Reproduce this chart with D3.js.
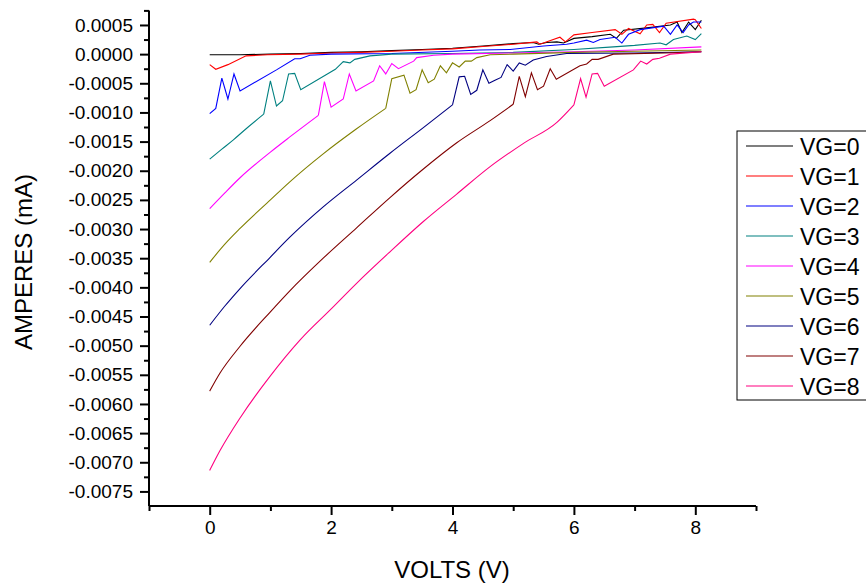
<!DOCTYPE html>
<html>
<head>
<meta charset="utf-8">
<script src="https://cdn.jsdelivr.net/npm/d3@7"></script>
<style>
  body { margin: 0; background: #fff; }
  text { font-family: "Liberation Sans", Arial, sans-serif; fill: #000; }
</style>
</head>
<body>
<svg id="graph" width="866" height="586"></svg>
<script>
  // measured curves, [volts, amperes]
  var vg0 = [[0,-0.00001],[0.5,-0.00001],[1.0,0.0],[1.5,0.00001],[2.0,0.00003],[2.5,0.00004],[3.0,0.00006],[3.5,0.00008],
             [4.0,0.0001],[4.5,0.00014],[5.0,0.00018],[5.33,0.0002],[5.42,0.00017],[5.55,0.0002],[5.72,0.00021],[5.83,0.00019],
             [6.0,0.00027],[6.3,0.0003],[6.6,0.00034],[6.7,0.00027],[6.82,0.00041],[7.2,0.00045],[7.59,0.0005],[7.7,0.00055],
             [7.78,0.00037],[7.89,0.00055],[8.0,0.00042],[8.1,0.00058]];
  var vg1 = [[0,-0.00018],[0.1,-0.00026],[0.3,-0.00018],[0.6,-0.00003],[0.95,-0.00001],[1.5,0.0],[2.0,0.00002],[2.5,0.00003],
             [3.0,0.00005],[3.5,0.00007],[4.0,0.00009],[4.5,0.00013],[5.0,0.00017],[5.39,0.00021],[5.44,0.00017],[5.77,0.00029],
             [5.86,0.00021],[6.0,0.00033],[6.3,0.00037],[6.68,0.00042],[6.79,0.00034],[6.9,0.00044],[7.09,0.00035],[7.2,0.0005],
             [7.3,0.00051],[7.41,0.00037],[7.52,0.00053],[7.97,0.0006],[8.0,0.00059],[8.1,0.00044]];
  var vg2 = [[0,-0.00102],[0.1,-0.00093],[0.2,-0.00041],[0.3,-0.00077],[0.4,-0.00034],[0.5,-0.00063],[1.1,-0.00027],[1.4,-0.00008],
             [1.49,-0.00008],[1.65,-0.00002],[2.0,0.0],[3.0,0.00001],[4.0,0.00005],[4.45,0.00007],[4.95,0.00008],[5.5,0.00014],
             [5.88,0.00017],[6.0,0.00019],[6.21,0.00024],[6.32,0.0002],[6.43,0.00025],[6.68,0.00029],[6.79,0.00019],[6.9,0.00034],
             [7.09,0.00042],[7.48,0.00048],[7.59,0.00034],[7.7,0.0005],[7.8,0.00037],[7.89,0.0005],[7.97,0.00055],[8.1,0.00055]];
  var vg3 = [[0,-0.0018],[0.2,-0.00163],[0.39,-0.00147],[0.6,-0.00128],[0.89,-0.00103],[1.0,-0.00046],[1.1,-0.00089],[1.2,-0.0008],
             [1.3,-0.00034],[1.4,-0.00033],[1.5,-0.00061],[2.07,-0.00026],[2.2,-0.00013],[2.31,-0.00015],[2.39,-0.00009],
             [2.64,-0.00003],[3.0,0.0],[4.0,0.00001],[5.0,0.00003],[6.0,0.00008],[6.65,0.000125],[7.0,0.00015],[7.42,0.00019],
             [7.52,0.00016],[7.64,0.00025],[7.86,0.00031],[8.0,0.00025],[8.1,0.00035]];
  var vg4 = [[0,-0.00265],[0.25,-0.00238],[0.5,-0.00212],[1.0,-0.00168],[1.32,-0.00142],[1.79,-0.00105],[1.89,-0.00047],
             [2.0,-0.00091],[2.2,-0.00077],[2.3,-0.00034],[2.41,-0.00063],[2.7,-0.00046],[2.8,-0.0002],[2.9,-0.00034],
             [3.0,-0.00016],[3.11,-0.00025],[3.36,-0.00012],[3.41,-0.00006],[3.69,-0.00002],[4.0,0.0],[5.0,0.00002],
             [6.0,0.00004],[7.0,0.00007],[8.1,0.000125]];
  var vg5 = [[0,-0.00357],[0.25,-0.00326],[0.5,-0.00299],[1.0,-0.0025],[1.32,-0.00219],[1.87,-0.00171],[2.42,-0.00128],
             [2.9,-0.00093],[3.0,-0.00042],[3.2,-0.00036],[3.3,-0.00067],[3.4,-0.00061],[3.5,-0.00027],[3.6,-0.00049],
             [3.7,-0.00043],[3.8,-0.0002],[3.9,-0.00032],[4.0,-0.00015],[4.11,-0.00022],[4.21,-0.00012],[4.31,-0.00012],
             [4.4,-0.00006],[4.62,-0.00001],[5.0,0.0],[6.0,0.00003],[7.0,0.00005],[8.1,0.00007]];
  var vg6 = [[0,-0.00465],[0.25,-0.00432],[0.5,-0.00402],[1.0,-0.00348],[1.32,-0.00314],[1.87,-0.00262],[2.42,-0.00216],
             [2.97,-0.0017],[3.52,-0.00126],[4.0,-0.00087],[4.11,-0.00039],[4.2,-0.00038],[4.3,-0.00069],[4.4,-0.00062],
             [4.5,-0.00027],[4.6,-0.0005],[4.7,-0.00045],[4.8,-0.0004],[4.9,-0.00018],[5.0,-0.00029],[5.1,-0.00015],
             [5.2,-0.00019],[5.33,-0.0001],[5.55,-0.00004],[5.88,0.00001],[7.0,0.00002],[8.1,0.00004]];
  var vg7 = [[0,-0.00578],[0.17,-0.00547],[0.5,-0.00501],[1.0,-0.00442],[1.32,-0.00406],[1.87,-0.0035],[2.42,-0.00298],
             [2.97,-0.00246],[3.52,-0.00197],[4.07,-0.00152],[4.62,-0.00114],[5.0,-0.00086],[5.1,-0.00038],[5.2,-0.00073],
             [5.3,-0.00032],[5.4,-0.00061],[5.5,-0.00055],[5.61,-0.00025],[5.71,-0.00043],[6.1,-0.0002],[6.21,-0.00017],
             [6.3,-0.00009],[6.4,-0.00009],[6.65,0.0],[7.5,0.00002],[8.1,0.00004]];
  var vg8 = [[0,-0.00714],[0.17,-0.0068],[0.5,-0.00624],[0.99,-0.00553],[1.49,-0.0049],[2.01,-0.00436],[2.42,-0.00393],
             [2.97,-0.00339],[3.52,-0.00287],[4.07,-0.0024],[4.62,-0.00193],[5.17,-0.00153],[5.72,-0.00117],[6.0,-0.00087],
             [6.11,-0.00042],[6.2,-0.00074],[6.3,-0.00034],[6.39,-0.00033],[6.5,-0.00055],[6.98,-0.00027],[7.1,-0.00012],
             [7.2,-0.00017],[7.3,-0.00009],[7.41,-0.00007],[7.59,0.0],[8.1,0.00004]];

  var seriesNames = ["VG=0", "VG=1", "VG=2", "VG=3", "VG=4", "VG=5", "VG=6", "VG=7", "VG=8"];
  var seriesData = [vg0, vg1, vg2, vg3, vg4, vg5, vg6, vg7, vg8];
  // index of the last point on the smooth (pre-noise) part of each curve
  var smoothEnd = [0, 0, 0, 4, 5, 7, 9, 11, 13];

  var xMajor = [0, 2, 4, 6, 8];
  var xMinor = [-1, 1, 3, 5, 7, 9];
  var yMajor = [0.0005, 0.0, -0.0005, -0.001, -0.0015, -0.002, -0.0025, -0.003, -0.0035, -0.004,
                -0.0045, -0.005, -0.0055, -0.006, -0.0065, -0.007, -0.0075];
  var yMinor = [0.00075, 0.00025, -0.00025, -0.00075, -0.00125, -0.00175, -0.00225, -0.00275, -0.00325, -0.00375,
                -0.00425, -0.00475, -0.00525, -0.00575, -0.00625, -0.00675, -0.00725];

  var colors = ["#000000", "#FF0000", "#0000FF", "#008080", "#FF00FF", "#808000", "#000080", "#800000", "#FF0080"];

  var svg = d3.select("#graph");

  var x = d3.scaleLinear().domain([-1, 9]).range([149, 756]);
  var y = d3.scaleLinear().domain([-0.00775, 0.00075]).range([506, 10.4]);

  var fmt = function(d) { return d3.format(".4f")(d).replace("\u2212", "-"); };

  // curves: smooth part as a spline, noisy part as straight segments
  var smoothLine = d3.line()
      .curve(d3.curveMonotoneX)
      .x(function(d) { return x(d[0]); })
      .y(function(d) { return y(d[1]); });
  var noisyLine = d3.line()
      .x(function(d) { return x(d[0]); })
      .y(function(d) { return y(d[1]); });

  seriesData.forEach(function(s, i) {
    var k = smoothEnd[i];
    if (k > 0) {
      svg.append("path")
        .attr("d", smoothLine(s.slice(0, k + 1)))
        .attr("fill", "none")
        .attr("stroke", colors[i])
        .attr("stroke-width", 1.1);
    }
    svg.append("path")
      .attr("d", noisyLine(s.slice(k)))
      .attr("fill", "none")
      .attr("stroke", colors[i])
      .attr("stroke-width", 1.1);
  });

  // y axis
  var yAxis = svg.append("g").attr("transform", "translate(149,0)")
      .call(d3.axisLeft(y).tickValues(yMajor).tickFormat(fmt).tickSize(9).tickPadding(7));
  svg.append("g").attr("transform", "translate(149,0)")
      .call(d3.axisLeft(y).tickValues(yMinor).tickFormat("").tickSize(5))
      .select(".domain").remove();

  // x axis
  var xAxis = svg.append("g").attr("transform", "translate(0,506)")
      .call(d3.axisBottom(x).tickValues(xMajor).tickFormat(d3.format("d")).tickSize(9).tickPadding(6));
  svg.append("g").attr("transform", "translate(0,506)")
      .call(d3.axisBottom(x).tickValues(xMinor).tickFormat("").tickSize(5))
      .select(".domain").remove();

  svg.selectAll(".domain").attr("stroke", "#000").attr("stroke-width", 2);
  yAxis.select(".domain").attr("d", "M0," + y(0.00075) + "V" + y(-0.00775));
  xAxis.select(".domain").attr("d", "M" + x(-1) + ",0H" + x(9));
  svg.selectAll(".tick line").attr("stroke", "#000").attr("stroke-width", 2);
  svg.selectAll(".tick text").style("font-family", "'Liberation Sans', Arial, sans-serif")
      .style("font-size", "19px").attr("fill", "#000");

  // axis titles
  svg.append("text").text("VOLTS (V)")
      .attr("x", 452).attr("y", 578)
      .attr("text-anchor", "middle")
      .style("font-size", "24px");

  svg.append("text").text("AMPERES (mA)")
      .attr("transform", "translate(32,262) rotate(-90)")
      .attr("text-anchor", "middle")
      .style("font-size", "24px");

  // legend
  var leg = svg.append("g").attr("transform", "translate(737,131)");
  leg.append("rect")
      .attr("x", 0).attr("y", 0)
      .attr("width", 140).attr("height", 269)
      .attr("fill", "#fff").attr("stroke", "#000").attr("stroke-width", 1);

  var rows = leg.selectAll(".legRow").data(seriesNames).enter().append("g")
      .attr("class", "legRow")
      .attr("transform", function(d, i) { return "translate(0," + (15 + 30 * i) + ")"; });
  rows.append("line")
      .attr("x1", 9).attr("x2", 56).attr("y1", 0).attr("y2", 0)
      .attr("stroke", function(d, i) { return colors[i]; })
      .attr("stroke-width", 1.2);
  rows.append("text").text(function(d) { return d; })
      .attr("x", 63).attr("y", 8.5)
      .style("font-size", "23px");
</script>
</body>
</html>
